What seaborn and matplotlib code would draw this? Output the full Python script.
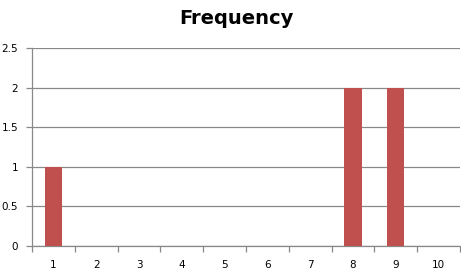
import matplotlib
matplotlib.use("Agg")
import matplotlib.pyplot as plt
import seaborn as sns
import pandas as pd
import numpy as np

categories = ["1", "2", "3", "4", "5", "6", "7", "8", "9", "10"]
values = [1, 0, 0, 0, 0, 0, 0, 2, 2, 0]
y_ticks = [0, 0.5, 1, 1.5, 2, 2.5]
y_tick_labels = ["0", "0.5", "1", "1.5", "2", "2.5"]

sns.set_style("white")
plt.rcParams['font.family'] = ['DejaVu Sans']

df = pd.DataFrame({"cat": categories, "val": values})

fig = plt.figure(figsize=(4.61, 2.74), dpi=100)
ax = fig.add_axes([32/461, 28/274, 428/461, 198/274])

sns.barplot(data=df, x="cat", y="val", order=categories, color="#C0504D",
            width=0.4, saturation=1, ax=ax, zorder=3, edgecolor="none", linewidth=0)

ax.set_xlim(-0.5, 9.5)
ax.set_ylim(0, 2.5)
ax.set_yticks(y_ticks)
ax.set_yticklabels(y_tick_labels, fontsize=7.5, color="black")
ax.yaxis.grid(True, color="#888888", linewidth=0.9, zorder=0)
ax.set_axisbelow(True)
ax.set_xlabel("")
ax.set_ylabel("")
for lab in ax.get_xticklabels():
    lab.set_color("black")
ax.tick_params(axis="x", which="major", length=0, labelsize=7.5, pad=10, labelcolor="black")
ax.set_xticks(np.arange(-0.5, 10, 1), minor=True)
ax.tick_params(axis="x", which="minor", bottom=True, length=4, color="#888888", direction="out", width=0.9)
ax.tick_params(axis="y", which="major", left=True, length=4, color="#888888", direction="out", width=0.9, pad=6, labelcolor="black")

for s in ["top", "right"]:
    ax.spines[s].set_visible(False)
for s in ["left", "bottom"]:
    ax.spines[s].set_color("#888888")
    ax.spines[s].set_linewidth(0.9)

fig.text(236/461, 1 - 18/274, "Frequency", ha="center", va="center",
         fontsize=14, fontweight="bold", color="black")

fig.savefig("out.png", dpi=100)
